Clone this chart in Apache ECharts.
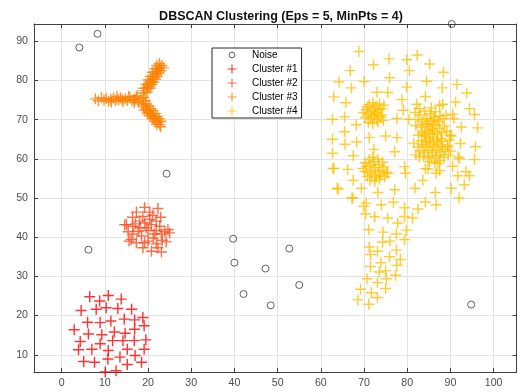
<!DOCTYPE html>
<html>
<head>
<meta charset="utf-8">
<script src="https://cdn.jsdelivr.net/npm/echarts@6/dist/echarts.min.js"></script>
<style>
  html, body { margin: 0; padding: 0; background: #fff; }
  #chart { width: 518px; height: 392px; }
</style>
</head>
<body>
<div id="chart"></div>
<script>
// Axis limits and labels
const xLimits = [-6.4, 105.3];
const yLimits = [5.6, 94.4];
const titleText = 'DBSCAN Clustering (Eps = 5, MinPts = 4)';
const seriesNames = ['Noise', 'Cluster #1', 'Cluster #2', 'Cluster #3', 'Cluster #4'];
const clusterColors = ['#FF0000', '#FF4A1C', '#FF8000', '#FFBF00'];

// Points that DBSCAN left unassigned
const noisePoints = [
  [4.1, 88.4], [8.3, 91.9], [90.3, 94.4], [24.3, 56.2], [6.2, 36.8],
  [39.7, 39.6], [52.7, 37.1], [40.0, 33.5], [47.2, 32.0], [42.1, 25.5],
  [55.0, 27.8], [48.4, 22.6], [94.8, 22.8]
];

// Cluster #1: round blob, lower left
const cluster1 = [
  [6.5, 24.8], [8.8, 23.7], [10.8, 25.1], [13.8, 24.2], [4.5, 21.3], [8.0, 21.6],
  [10.3, 22.0], [13.0, 21.8], [16.2, 21.6], [6.0, 18.3], [8.9, 18.2], [11.4, 18.6],
  [14.5, 19.1], [16.9, 18.9], [18.8, 19.5], [2.9, 16.4], [6.2, 15.3], [9.3, 15.1],
  [12.2, 15.8], [14.7, 15.5], [16.9, 16.5], [19.1, 17.4], [4.3, 13.4], [7.0, 11.4],
  [8.9, 12.8], [11.8, 13.6], [14.2, 13.6], [16.8, 13.6], [19.5, 13.8], [3.9, 11.3],
  [10.8, 11.1], [15.2, 11.4], [19.1, 11.4], [5.1, 8.3], [7.6, 8.1], [10.7, 8.9],
  [13.5, 9.4], [17.0, 9.8], [15.2, 7.5], [18.5, 8.1], [10.1, 5.6], [12.6, 5.9]
];

// Cluster #2: small dense disc
const cluster2 = [
  [19.2, 47.6], [17.3, 46.4], [20.4, 46.4], [22.3, 47.3], [16.4, 45.1], [18.8, 45.3],
  [21.1, 45.6], [22.9, 45.1], [15.0, 43.2], [17.1, 43.4], [19.2, 43.6], [20.8, 43.2],
  [22.7, 42.8], [24.6, 41.9], [15.4, 41.4], [17.7, 41.5], [20.0, 41.7], [21.9, 41.7],
  [23.9, 41.4], [16.1, 39.4], [18.5, 40.3], [21.2, 39.8], [23.3, 39.2], [17.3, 38.6],
  [19.2, 38.6], [21.9, 38.3], [24.2, 38.8], [15.6, 39.0], [20.8, 36.4], [23.1, 36.2],
  [18.8, 37.3], [16.5, 40.8], [14.6, 43.2], [19.6, 42.4], [18.1, 44.1], [21.9, 44.1],
  [23.1, 40.8], [25.0, 41.1], [20.4, 44.5], [18.1, 42.4], [21.5, 40.8], [20.0, 39.0],
  [22.3, 37.3], [16.5, 42.8]
];

// Cluster #3: three-armed star
const cluster3 = [
  [7.8, 75.3], [8.5, 74.8], [9.2, 75.6], [9.8, 75.0], [10.3, 75.4], [10.9, 74.7],
  [11.4, 75.2], [12.0, 75.5], [12.5, 74.9], [13.1, 75.1], [13.6, 75.6], [14.2, 74.6],
  [14.7, 75.3], [15.2, 74.8], [15.8, 75.7], [16.3, 74.9], [16.8, 75.2], [17.3, 75.8],
  [17.8, 74.5], [18.3, 75.4], [15.5, 75.9], [16.8, 74.3], [17.5, 76.1], [18.6, 74.0],
  [19.0, 75.6], [19.4, 74.8], [17.0, 75.0], [14.0, 75.2], [12.8, 75.9], [11.5, 74.5],
  [18.9, 76.8], [19.3, 77.4], [19.6, 78.1], [20.0, 78.6], [20.2, 79.3], [20.6, 79.8],
  [21.0, 80.4], [21.2, 81.1], [21.7, 81.6], [22.0, 82.2], [22.3, 82.9], [22.8, 83.3],
  [23.2, 83.8], [19.8, 77.0], [20.5, 78.0], [20.8, 78.9], [21.3, 79.5], [21.7, 80.3],
  [22.1, 81.0], [22.5, 81.8], [23.0, 82.5], [23.6, 83.2], [19.0, 78.0], [19.5, 79.0],
  [20.0, 80.1], [20.5, 81.0], [21.0, 82.1], [21.6, 83.0], [22.0, 83.8], [22.6, 84.3],
  [18.9, 73.5], [19.4, 73.0], [19.8, 72.6], [20.2, 72.0], [20.7, 71.5], [21.1, 71.0],
  [21.4, 70.4], [21.9, 69.9], [22.3, 69.3], [22.7, 68.7], [22.9, 68.2], [19.6, 74.0],
  [20.2, 73.4], [20.6, 72.8], [21.2, 72.3], [21.7, 71.6], [22.1, 70.8], [22.6, 70.2],
  [23.0, 69.6], [19.1, 72.4], [19.8, 71.7], [20.4, 71.0], [21.0, 70.2], [21.5, 69.5],
  [22.0, 68.8]
];

// Cluster #4: large sparse region with four dense cores
const cluster4 = [
  // sparse outer points
  [68.8, 87.4], [75.8, 85.5], [72.2, 84.0], [79.9, 85.3], [82.3, 86.5], [85.2, 84.2],
  [66.8, 82.5], [80.5, 82.5], [88.4, 82.1], [75.9, 80.7], [64.2, 79.6], [70.0, 79.7],
  [84.5, 79.8], [91.5, 79.0], [67.1, 78.1], [79.9, 78.3], [88.1, 78.1], [73.0, 77.0],
  [75.5, 76.9], [93.8, 76.8], [63.0, 75.8], [65.8, 74.3], [78.8, 75.1], [84.2, 75.9],
  [91.2, 74.5], [82.2, 73.9], [88.2, 73.9], [94.4, 72.8], [79.1, 72.4], [95.6, 71.3],
  [62.7, 70.1], [65.5, 70.7], [77.6, 70.3], [80.4, 70.1], [90.8, 70.3], [68.2, 68.7],
  [92.5, 68.1], [96.3, 67.9], [65.5, 66.9], [71.2, 65.4], [75.0, 65.8], [77.6, 65.4],
  [62.7, 65.0], [68.3, 64.3], [90.2, 65.8], [65.6, 63.7], [92.3, 63.9], [72.3, 62.4],
  [77.1, 61.8], [95.8, 63.1], [62.7, 61.4], [67.5, 60.8], [91.8, 60.5], [95.6, 59.8],
  [62.8, 57.5], [66.2, 57.3], [79.4, 58.0], [90.5, 58.1], [93.6, 56.7],
  [82.8, 72.8], [87.5, 73.6], [89.0, 71.1], [90.5, 71.4], [89.9, 66.0], [89.4, 63.1],
  [92.1, 60.1], [82.8, 60.5], [87.1, 58.8], [84.2, 57.5], [86.7, 56.3],
  [79.6, 56.3], [75.5, 56.3], [84.8, 57.4], [87.5, 57.0],
  // lower tail
  [67.5, 54.5], [69.4, 52.5], [63.8, 52.5], [73.2, 51.4], [77.1, 52.1], [81.8, 52.5],
  [83.6, 54.5], [86.5, 51.4], [90.2, 52.5], [92.0, 50.0], [93.2, 53.4], [94.4, 55.7],
  [91.7, 55.7], [67.2, 50.0], [70.5, 48.7], [74.0, 48.3], [76.8, 48.9], [84.2, 49.0],
  [86.7, 48.3], [82.5, 47.2], [79.4, 47.5], [69.9, 47.9], [70.4, 45.9], [72.5, 45.2],
  [75.5, 44.9], [79.4, 45.3], [81.2, 44.9], [77.8, 43.6], [71.1, 41.9], [74.4, 41.3],
  [77.5, 40.8], [79.8, 41.8], [79.4, 39.4], [74.3, 38.7], [76.0, 39.0], [71.2, 37.5],
  [73.1, 36.4], [77.5, 36.7], [71.5, 35.6], [75.9, 35.0], [78.4, 34.3], [73.9, 33.5],
  [71.5, 32.5], [77.6, 32.8], [73.5, 31.1], [75.0, 31.4], [77.3, 30.3], [70.7, 29.4],
  [75.2, 29.4], [73.1, 28.4], [69.2, 26.7], [71.7, 25.8], [75.0, 26.9], [73.1, 24.6],
  [68.6, 24.0], [71.1, 22.9], [63.0, 57.6], [64.0, 52.3], [67.4, 50.0],
  // core near (72, 72)
  [70.5, 72.5], [71.2, 73.8], [72.0, 74.3], [72.8, 73.5], [73.6, 74.0], [74.2, 72.8],
  [71.0, 71.5], [71.8, 72.2], [72.6, 71.8], [73.4, 72.5], [74.0, 71.2], [70.3, 70.5],
  [71.5, 70.2], [72.3, 70.8], [73.0, 70.0], [73.8, 70.6], [71.0, 69.3], [72.0, 69.0],
  [73.2, 69.4], [74.5, 69.8], [72.4, 73.0], [71.6, 71.0], [73.1, 71.4], [70.8, 73.2],
  [74.6, 73.7], [69.8, 71.8],
  // core near (85, 68)
  [83.0, 71.2], [84.0, 72.2], [85.3, 71.5], [86.5, 72.0], [87.6, 71.0], [82.5, 70.0],
  [83.6, 69.5], [84.5, 70.3], [85.5, 69.8], [86.4, 70.6], [87.2, 69.5], [88.3, 70.2],
  [82.0, 68.5], [83.2, 68.0], [84.2, 68.8], [85.0, 68.2], [85.8, 67.5], [86.7, 68.6],
  [87.5, 67.8], [88.6, 68.4], [83.5, 66.8], [84.6, 67.2], [85.4, 66.5], [86.2, 66.9],
  [87.0, 66.2], [88.0, 66.7], [89.2, 67.1], [82.6, 66.0], [84.0, 65.8], [85.0, 65.2],
  [86.0, 65.6], [86.9, 64.8], [87.8, 65.2], [83.3, 64.6], [84.4, 64.2], [81.8, 71.8],
  [85.6, 73.0], [84.8, 69.0], [85.9, 68.9], [86.1, 70.0], [84.1, 66.4],
  // core near (86, 62)
  [82.5, 63.0], [83.6, 63.6], [84.5, 63.0], [85.4, 63.8], [86.3, 63.2], [87.3, 63.7],
  [88.2, 63.1], [89.3, 63.5], [83.0, 62.0], [84.0, 61.5], [85.0, 62.2], [85.9, 61.6],
  [86.8, 62.3], [87.8, 61.8], [88.8, 62.4], [83.8, 60.6], [84.8, 60.2], [85.7, 60.8],
  [86.6, 60.3], [87.5, 60.9], [88.5, 60.4], [89.5, 61.0], [85.2, 59.3], [86.4, 59.0],
  [87.6, 59.5], [84.3, 64.6], [86.0, 64.2], [88.0, 64.5], [90.0, 62.0], [82.0, 61.0],
  [81.5, 64.0], [89.8, 64.8],
  // core near (72, 57)
  [70.3, 59.0], [71.2, 59.8], [72.2, 59.3], [73.2, 59.9], [74.3, 59.2], [70.6, 58.0],
  [71.6, 58.4], [72.6, 57.8], [73.5, 58.5], [74.6, 57.9], [70.2, 56.8], [71.3, 56.5],
  [72.3, 57.1], [73.3, 56.6], [74.2, 57.0], [75.2, 56.6], [70.8, 55.5], [71.8, 55.9],
  [72.8, 55.3], [73.8, 55.8], [74.8, 55.4], [71.4, 54.6], [72.5, 54.3], [73.6, 54.8],
  [72.0, 60.4], [69.8, 57.5]
];

const clusters = [cluster1, cluster2, cluster3, cluster4];

// '+' marker as a thin filled cross
const plusPath = 'path://M0,4.35H4.35V0H5.65V4.35H10V5.65H5.65V10H4.35V5.65H0Z';
// small ring for the legend, padded so it draws smaller than the crosses
const ringIcon = 'path://M0,0M10,10M5,1.8A3.2,3.2,0,1,1,4.99,1.8Z';

const axisGray = '#404040';
const labelGray = '#4d4d4d';
const fontFamily = '"Liberation Sans", Arial, Helvetica, sans-serif';

const series = [{
  name: seriesNames[0],
  type: 'scatter',
  data: noisePoints,
  symbol: 'circle',
  symbolSize: 7,
  clip: false,
  itemStyle: { color: 'rgba(0,0,0,0)', borderColor: '#3a3a3a', borderWidth: 1 },
  emphasis: { disabled: true }
}].concat(clusters.map((pts, i) => ({
  name: seriesNames[i + 1],
  type: 'scatter',
  data: pts,
  symbol: plusPath,
  symbolSize: 11,
  clip: false,
  itemStyle: { color: clusterColors[i] },
  emphasis: { disabled: true }
})));

const chart = echarts.init(document.getElementById('chart'), null, { renderer: 'canvas' });
chart.setOption({
  backgroundColor: '#ffffff',
  animation: false,
  textStyle: { fontFamily: fontFamily },
  title: {
    text: titleText,
    left: 276,
    textAlign: 'center',
    top: 5,
    textStyle: { fontSize: 12.5, fontWeight: 'bold', color: '#111', fontFamily: fontFamily }
  },
  legend: {
    orient: 'vertical',
    left: 212,
    top: 48,
    padding: [2, 4, 2, 15],
    itemWidth: 30,
    itemHeight: 9,
    itemGap: 4,
    backgroundColor: '#ffffff',
    borderColor: '#262626',
    borderWidth: 1,
    selectedMode: false,
    textStyle: { fontSize: 10, color: '#000', fontFamily: fontFamily },
    data: [
      { name: seriesNames[0], icon: ringIcon, itemStyle: { color: 'rgba(0,0,0,0)', borderColor: '#3a3a3a', borderWidth: 1 } },
      { name: seriesNames[1], icon: plusPath },
      { name: seriesNames[2], icon: plusPath },
      { name: seriesNames[3], icon: plusPath },
      { name: seriesNames[4], icon: plusPath }
    ]
  },
  grid: { left: 34, right: 1.5, top: 24, bottom: 20, containLabel: false },
  xAxis: [{
    type: 'value',
    min: xLimits[0],
    max: xLimits[1],
    splitNumber: 11,
    axisLine: { show: true, onZero: false, lineStyle: { color: axisGray, width: 1 } },
    axisTick: { show: true, inside: true, length: 4, lineStyle: { color: axisGray } },
    axisLabel: {
      color: labelGray, fontSize: 10.6, margin: 6, showMinLabel: false, showMaxLabel: false,
      formatter: v => (Math.abs(v % 10) < 1e-6 ? String(Math.round(v)) : '')
    },
    splitLine: { show: true, lineStyle: { color: '#e3e3e3', width: 1 } }
  }, {
    type: 'value',
    position: 'top',
    min: xLimits[0],
    max: xLimits[1],
    splitNumber: 11,
    axisLine: { show: true, onZero: false, lineStyle: { color: axisGray, width: 1 } },
    axisTick: { show: true, inside: true, length: 4, lineStyle: { color: axisGray } },
    axisLabel: { show: false },
    splitLine: { show: false }
  }],
  yAxis: [{
    type: 'value',
    min: yLimits[0],
    max: yLimits[1],
    splitNumber: 9,
    axisLine: { show: true, onZero: false, lineStyle: { color: axisGray, width: 1 } },
    axisTick: { show: true, inside: true, length: 4, lineStyle: { color: axisGray } },
    axisLabel: {
      color: labelGray, fontSize: 10.6, margin: 6, showMinLabel: false, showMaxLabel: false,
      formatter: v => (Math.abs(v % 10) < 1e-6 ? String(Math.round(v)) : '')
    },
    splitLine: { show: true, lineStyle: { color: '#e3e3e3', width: 1 } }
  }, {
    type: 'value',
    position: 'right',
    min: yLimits[0],
    max: yLimits[1],
    splitNumber: 9,
    axisLine: { show: true, onZero: false, lineStyle: { color: axisGray, width: 1 } },
    axisTick: { show: true, inside: true, length: 4, lineStyle: { color: axisGray } },
    axisLabel: { show: false },
    splitLine: { show: false }
  }],
  series: series
});
</script>
</body>
</html>
